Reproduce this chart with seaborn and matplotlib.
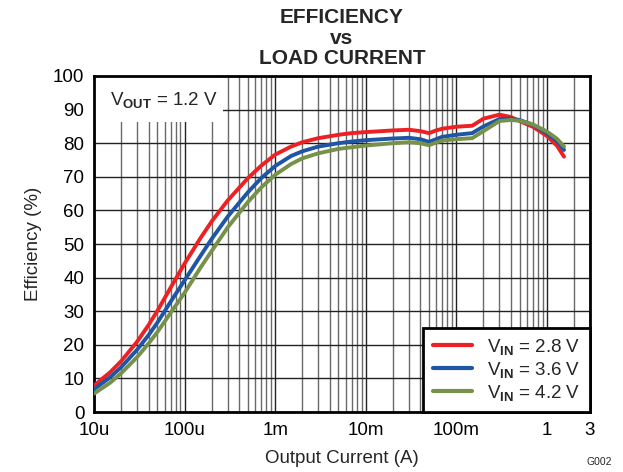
import matplotlib
matplotlib.use("Agg")
import matplotlib.pyplot as plt
from matplotlib.patches import Rectangle
import seaborn as sns
import pandas as pd

# Load current (A), log-spaced measurement points
current = [10e-6, 15e-6, 20e-6, 30e-6, 40e-6, 50e-6, 70e-6, 100e-6, 150e-6, 200e-6,
           300e-6, 500e-6, 700e-6, 1e-3, 1.5e-3, 2e-3, 3e-3, 5e-3, 7e-3, 10e-3,
           20e-3, 30e-3, 40e-3, 50e-3, 60e-3, 70e-3, 100e-3, 150e-3, 200e-3,
           300e-3, 400e-3, 500e-3, 700e-3, 1.0, 1.3, 1.55]

# Efficiency (%) for each input voltage
eff_2v8 = [7.9, 11.8, 15.2, 21.0, 25.9, 30.1, 37.0, 44.2, 51.8, 56.8,
           63.0, 69.6, 73.3, 76.6, 79.0, 80.3, 81.5, 82.5, 83.0, 83.3,
           83.8, 84.0, 83.6, 83.0, 83.8, 84.3, 84.9, 85.2, 87.3,
           88.5, 87.8, 86.6, 84.9, 82.2, 79.2, 76.0]
eff_3v6 = [6.8, 10.3, 13.4, 18.6, 22.9, 26.6, 32.8, 39.2, 46.5, 51.6,
           58.2, 65.4, 69.6, 73.2, 76.2, 77.6, 79.0, 80.0, 80.5, 80.9,
           81.4, 81.6, 81.2, 80.4, 81.2, 81.9, 82.5, 83.0, 85.0,
           87.2, 87.3, 86.9, 85.5, 83.0, 80.6, 78.0]
eff_4v2 = [5.5, 8.7, 11.6, 16.4, 20.4, 23.8, 29.5, 35.5, 43.0, 48.0,
           55.0, 62.5, 66.8, 70.6, 73.8, 75.5, 77.0, 78.3, 78.8, 79.3,
           80.0, 80.3, 80.0, 79.4, 80.2, 80.8, 81.2, 81.5, 83.6,
           86.6, 86.9, 86.7, 85.6, 83.5, 81.3, 79.0]

series_labels = [r"V$_{\mathbf{IN}}$ = 2.8 V",
                 r"V$_{\mathbf{IN}}$ = 3.6 V",
                 r"V$_{\mathbf{IN}}$ = 4.2 V"]
series_colors = ["#ED2024", "#1F55A5", "#76914A"]

x_ticks = [1e-5, 1e-4, 1e-3, 1e-2, 1e-1, 1, 3]
x_tick_labels = ["10u", "100u", "1m", "10m", "100m", "1", "3"]
y_ticks = list(range(0, 101, 10))

df = pd.concat([
    pd.DataFrame({"current": current, "efficiency": vals, "series": lab})
    for vals, lab in zip([eff_2v8, eff_3v6, eff_4v2], series_labels)
])

sns.set_style("white")
plt.rcParams["font.family"] = ["Liberation Sans", "DejaVu Sans"]
plt.rcParams["mathtext.fontset"] = "custom"
plt.rcParams["mathtext.rm"] = "Liberation Sans"
plt.rcParams["mathtext.it"] = "Liberation Sans:italic"
plt.rcParams["mathtext.bf"] = "Liberation Sans:bold"

fig = plt.figure(figsize=(6.23, 4.72), dpi=100)
ax = fig.add_axes([0.151, 0.127, 0.796, 0.712])

sns.lineplot(data=df, x="current", y="efficiency", hue="series",
             hue_order=series_labels, palette=series_colors,
             linewidth=2.8, ax=ax, legend=True, zorder=3)

ax.set_xscale("log")
ax.set_xlim(1e-5, 3)
ax.set_ylim(0, 100)
ax.set_xticks(x_ticks)
ax.set_xticklabels(x_tick_labels)
ax.set_yticks(y_ticks)
ax.tick_params(axis="both", length=0, pad=7, labelsize=13.5, colors="black")
ax.minorticks_on()
ax.tick_params(which="minor", length=0)
ax.yaxis.set_minor_locator(matplotlib.ticker.NullLocator())
ax.xaxis.set_minor_locator(matplotlib.ticker.LogLocator(base=10, subs=range(2, 10)))
ax.xaxis.set_minor_formatter(matplotlib.ticker.NullFormatter())

ax.set_axisbelow(True)
ax.grid(which="major", axis="both", color="#222222", linewidth=1.0)
ax.grid(which="minor", axis="x", color="#6a6a6a", linewidth=1.0)

for sp in ax.spines.values():
    sp.set_color("black")
    sp.set_linewidth(2.0)

ax.set_xlabel("Output Current (A)", fontsize=13.5, labelpad=8)
ax.set_ylabel("Efficiency (%)", fontsize=13.5, labelpad=8)

# Condition label in the upper-left corner
ax.add_patch(Rectangle((0, 0.863), 0.26, 0.137, transform=ax.transAxes,
                       facecolor="white", edgecolor="none", zorder=1))
ax.text(0.032, 0.93, r"V$_{\mathbf{OUT}}$ = 1.2 V", transform=ax.transAxes,
        fontsize=13.5, va="center", ha="left", zorder=2)

leg = ax.legend(loc="lower right", bbox_to_anchor=(1.0, 0.0), frameon=True,
                fancybox=False, fontsize=13.5, handlelength=2.1,
                handletextpad=0.8, labelspacing=0.15, borderpad=0.5,
                borderaxespad=0.0)
leg.get_frame().set_edgecolor("black")
leg.get_frame().set_linewidth(2.0)
leg.get_frame().set_alpha(1.0)
for line in leg.get_lines():
    line.set_linewidth(3.0)

fig.text(0.549, 0.962, "EFFICIENCY", fontsize=15, fontweight="bold",
         ha="center", va="center")
fig.text(0.549, 0.918, "vs", fontsize=15, fontweight="bold",
         ha="center", va="center")
fig.text(0.549, 0.875, "LOAD CURRENT", fontsize=15, fontweight="bold",
         ha="center", va="center")
fig.text(0.983, 0.022, "G002", fontsize=7.5, ha="right", va="center")

fig.savefig("out.png", dpi=100)
